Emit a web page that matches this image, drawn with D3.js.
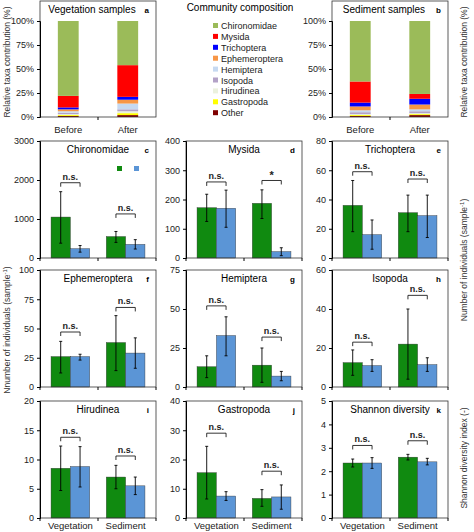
<!DOCTYPE html>
<html><head><meta charset="utf-8">
<script src="https://cdn.jsdelivr.net/npm/d3@7"></script>
<style>body{margin:0;background:#fff}svg{font-family:Arial,"Liberation Sans",sans-serif}</style>
</head><body><svg id="c" width="474" height="532"></svg>
<script>
// community composition (% of individuals), stacked bottom -> top
const taxa = ["Other","Gastropoda","Hirudinea","Isopoda","Hemiptera","Ephemeroptera","Trichoptera","Mysida","Chironomidae"];
const taxaColors = ["#7f0000","#ffff00","#ebf1de","#b3a2c7","#c6d9f1","#f79646","#0000ff","#ff0000","#9bbb59"];
const periods = ["Before","After"];
const vegComp = [[1,1,1,1.5,1.5,2,2,12,78],[2,2,2,2,6,4,3,33,46]];
const sedComp = [[1,1,1,2,2,4,4,22,63],[2,1,1,2,2,5,6,5,76]];

// grouped panels: habitat x (green, blue): mean, lower, upper
const habitats = ["Vegetation","Sediment"];
const panelNames = ["Chironomidae","Mysida","Trichoptera","Ephemeroptera","Hemiptera","Isopoda","Hirudinea","Gastropoda","Shannon diversity"];
const panelLetters = ["c","d","e","f","g","h","i","j","k"];
const panelMax = [3000,400,80,100,75,60,20,40,5];
const panelTicks = [[0,1000,2000,3000],[0,100,200,300,400],[0,20,40,60,80],[0,25,50,75,100],[0,25,50,75],[0,20,40,60],[0,5,10,15,20],[0,10,20,30,40],[0,1,2,3,4,5]];
const means = [[[1050,240],[550,350]],[[172,170],[187,22]],[[36,16],[31,29]],[[26,26],[38,29]],[[13,33],[14,7]],[[12.5,11],[22,11.5]],[[8.5,8.8],[7,5.5]],[[15.5,7.5],[6.7,7.2]],[[2.35,2.35],[2.6,2.4]]];
const lows = [[[380,150],[400,230]],[[125,105],[135,8]],[[18,6],[18,14]],[[12,23],[14,16]],[[6,20],[3,4]],[[6,8],[4,8]],[[4.7,5.3],[5,4]],[[6.5,6],[4,3]],[[2.18,2.12],[2.48,2.27]]];
const highs = [[[1700,320],[680,470]],[[218,232],[233,35]],[[53,26],[43,43]],[[39,28],[61,42]],[[20,45],[25,10]],[[19,14],[40,15]],[[12.3,12.2],[9,7]],[[24.5,9],[9.7,11.3]],[[2.52,2.58],[2.72,2.55]]];
const sigLevel = [[1930,1130],[260,265],[59,54],[47,68],[52,32],[23,47],[13.8,10.6],[29,16],[3.1,3.3]];
const sigText = [["n.s.","n.s."],["n.s.","*"],["n.s.","n.s."],["n.s.","n.s."],["n.s.","n.s."],["n.s.","n.s."],["n.s.","n.s."],["n.s.","n.s."],["n.s.","n.s."]];
const groupColors = ["#108a10","#5b95d6"];

const svg = d3.select("#c");
const colX = [40,186,332], pw = 116;

function frame(g, h) {
  g.append("rect").attr("x",0).attr("y",0).attr("width",pw).attr("height",h)
    .attr("fill","none").attr("stroke","#333").attr("stroke-width",0.8);
}
function yAxis(g, y, ticks, fmt) {
  const ax = g.append("g").call(d3.axisLeft(y).tickValues(ticks).tickSize(3).tickFormat(fmt));
  ax.select(".domain").attr("stroke","#000");
  ax.selectAll("text").attr("font-size",9).attr("fill","#222");
}

// composition panels
function compPanel(x, data, title, letter) {
  const g = svg.append("g").attr("transform",`translate(${x},1)`);
  const h = 116;
  const y = d3.scaleLinear().domain([0,100]).range([h,20]);
  const xb = d3.scaleBand().domain(periods).range([0,pw]).paddingInner(0.65).paddingOuter(0.3);
  data.forEach((vals,i) => {
    const st = d3.cumsum(vals);
    vals.forEach((v,j) => {
      g.append("rect").attr("x",xb(periods[i])).attr("width",xb.bandwidth())
        .attr("y",y(st[j])).attr("height",y(st[j]-v)-y(st[j])).attr("fill",taxaColors[j]);
    });
  });
  frame(g,h);
  yAxis(g,y,[0,25,50,75,100],d=>d+"%");
  const xa = g.append("g").attr("transform",`translate(0,${h})`).call(d3.axisBottom(xb).tickSize(0).tickPadding(9));
  xa.select(".domain").remove();
  xa.selectAll("text").attr("font-size",9.5).attr("fill","#222");
  g.append("line").attr("x1",pw/2).attr("x2",pw/2).attr("y1",h).attr("y2",h+3).attr("stroke","#000");
  g.append("text").attr("x",pw/2-6).attr("y",12).attr("text-anchor","middle").attr("font-size",10).text(title);
  g.append("text").attr("x",pw-7).attr("y",12).attr("text-anchor","end").attr("font-size",8).attr("font-weight","bold").text(letter);
}
compPanel(colX[0], vegComp, "Vegetation samples", "a");
compPanel(colX[2], sedComp, "Sediment samples", "b");

// legend
svg.append("text").attr("x",240).attr("y",11).attr("text-anchor","middle").attr("font-size",10).text("Community composition");
taxa.slice().reverse().forEach((t,i) => {
  const c = taxaColors[taxa.length-1-i];
  svg.append("rect").attr("x",213).attr("y",23+i*10.9).attr("width",5).attr("height",5).attr("fill",c);
  svg.append("text").attr("x",221).attr("y",29+i*10.9).attr("font-size",9).attr("fill","#222").text(t);
});

// grouped panels
const rowTop = [141,270,401], ph = 117;
panelNames.forEach((name,p) => {
  const g = svg.append("g").attr("transform",`translate(${colX[p%3]},${rowTop[Math.floor(p/3)]})`);
  const y = d3.scaleLinear().domain([0,panelMax[p]]).range([ph,0]);
  const xh = d3.scaleBand().domain(habitats).range([0,pw]).paddingInner(0.3).paddingOuter(0.2);
  const xs = d3.scaleBand().domain([0,1]).range([0,xh.bandwidth()]);
  habitats.forEach((hb,i) => {
    [0,1].forEach(k => {
      const bx = xh(hb)+xs(k);
      g.append("rect").attr("x",bx).attr("width",xs.bandwidth()).attr("y",y(means[p][i][k]))
        .attr("height",ph-y(means[p][i][k])).attr("fill",groupColors[k]).attr("stroke","#333").attr("stroke-width",0.4);
      const cx = bx+xs.bandwidth()/2;
      g.append("line").attr("x1",cx).attr("x2",cx).attr("y1",y(lows[p][i][k])).attr("y2",y(highs[p][i][k])).attr("stroke","#000").attr("stroke-width",0.9);
      [lows[p][i][k],highs[p][i][k]].forEach(v => g.append("line").attr("x1",cx-1.5).attr("x2",cx+1.5).attr("y1",y(v)).attr("y2",y(v)).attr("stroke","#000").attr("stroke-width",0.9));
    });
    const b0 = xh(hb)+xs.bandwidth()/2, b1 = xh(hb)+xs.bandwidth()*1.5, by = y(sigLevel[p][i]);
    g.append("path").attr("d",`M${b0},${by+4}V${by}H${b1}V${by+4}`).attr("fill","none").attr("stroke","#000").attr("stroke-width",0.8);
    g.append("text").attr("x",(b0+b1)/2).attr("y",by-(sigText[p][i]==="*"?1:3)).attr("text-anchor","middle")
      .attr("font-size",sigText[p][i]==="*"?11:9).attr("font-weight","bold").attr("fill","#222").text(sigText[p][i]);
  });
  frame(g,ph);
  yAxis(g,y,panelTicks[p],d3.format("d"));
  const xa = g.append("g").attr("transform",`translate(0,${ph})`).call(d3.axisBottom(xh).tickSize(0).tickPadding(4).tickFormat(p>=6?null:""));
  xa.select(".domain").remove();
  xa.selectAll("text").attr("font-size",9.5).attr("fill","#222");
  [0,pw/2,pw].forEach(t => g.append("line").attr("x1",t).attr("x2",t).attr("y1",ph).attr("y2",ph+3).attr("stroke","#000"));
  g.append("text").attr("x",pw/2).attr("y",12).attr("text-anchor","middle").attr("font-size",10).text(name);
  g.append("text").attr("x",pw-7).attr("y",12).attr("text-anchor","end").attr("font-size",8).attr("font-weight","bold").text(panelLetters[p]);
  if (p===0) {
    groupColors.forEach((c,k) => g.append("rect").attr("x",77+k*17).attr("y",25).attr("width",5).attr("height",5).attr("fill",c));
  }
});

// axis titles
function vtitle(x,y){
  return svg.append("text").attr("transform",`translate(${x},${y}) rotate(-90)`).attr("text-anchor","middle").attr("font-size",8.5).attr("fill","#333");
}
vtitle(10,62).text("Relative taxa contribution (%)");
vtitle(467,62).text("Relative taxa contribution (%)");
let t1 = vtitle(10,330); t1.append("tspan").text("Nnumber of individuals (sample"); t1.append("tspan").attr("baseline-shift","super").attr("font-size",6).text("-1"); t1.append("tspan").text(")");
let t2 = vtitle(467,260); t2.append("tspan").text("Number of individuals (sample"); t2.append("tspan").attr("baseline-shift","super").attr("font-size",6).text("-1"); t2.append("tspan").text(")");
vtitle(467,458).text("Shannon diversity index (-)");
</script></body></html>
